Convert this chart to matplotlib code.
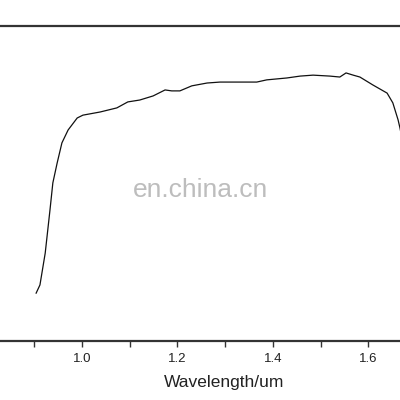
import matplotlib
matplotlib.use("Agg")
import matplotlib.pyplot as plt
from matplotlib.ticker import MultipleLocator

# values (y in arbitrary %, no y scale shown)
wavelength = [0.904, 0.912, 0.923, 0.933, 0.939, 0.948, 0.958, 0.971, 0.990, 1.002,
              1.038, 1.073, 1.096, 1.121, 1.149, 1.174, 1.188, 1.205, 1.230, 1.262,
              1.289, 1.316, 1.348, 1.366, 1.387, 1.429, 1.457, 1.484, 1.519, 1.540,
              1.553, 1.568, 1.582, 1.609, 1.639, 1.651, 1.662, 1.666, 1.675]
signal = [15.2, 17.8, 27.9, 41.6, 50.2, 56.5, 62.9, 67.0, 70.8, 71.7,
          72.7, 74.0, 75.9, 76.5, 77.8, 79.7, 79.4, 79.4, 81.0, 81.9,
          82.2, 82.2, 82.2, 82.2, 82.9, 83.5, 84.1, 84.4, 84.1, 83.8,
          85.1, 84.4, 83.8, 81.3, 78.7, 75.6, 70.2, 67.6, 60.6]
xtick_values = [1.0, 1.2, 1.4, 1.6]
xtick_labels = ["1.0", "1.2", "1.4", "1.6"]

plt.rcParams["font.family"] = ["Liberation Sans", "DejaVu Sans"]

fig = plt.figure(figsize=(4, 4), dpi=100)
# axes run past the left and right edges, as in the cropped reference
ax = fig.add_axes([-37.4 / 400, (400 - 341) / 400, 477.5 / 400, 315 / 400])
ax.plot(wavelength, signal, color="#111111", linewidth=0.9)

ax.set_xlim(0.75, 1.75)
ax.set_ylim(0, 100)
ax.set_xticks(xtick_values)
ax.set_xticklabels(xtick_labels)
ax.xaxis.set_minor_locator(MultipleLocator(0.1))
ax.tick_params(axis="x", which="both", direction="out", length=4, width=1.0,
               color="#333333", labelsize=9.5, labelcolor="#222222", pad=5)
ax.tick_params(axis="y", left=False, labelleft=False)
ax.set_yticks([])
for side in ["top", "bottom", "left", "right"]:
    ax.spines[side].set_color("#333333")
    ax.spines[side].set_linewidth(1.6)

# x label sits right of the axes centre in the reference crop
ax.set_xlabel("Wavelength/um", fontsize=12.5, color="#222222")
ax.xaxis.set_label_coords(224 / 400, 18 / 400, transform=fig.transFigure)
ax.xaxis.label.set_va("center")

fig.text(0.5, (400 - 190) / 400, "en.china.cn", fontsize=19, color="#bdbdbd",
         ha="center", va="center")

fig.savefig("out.png", dpi=100)
